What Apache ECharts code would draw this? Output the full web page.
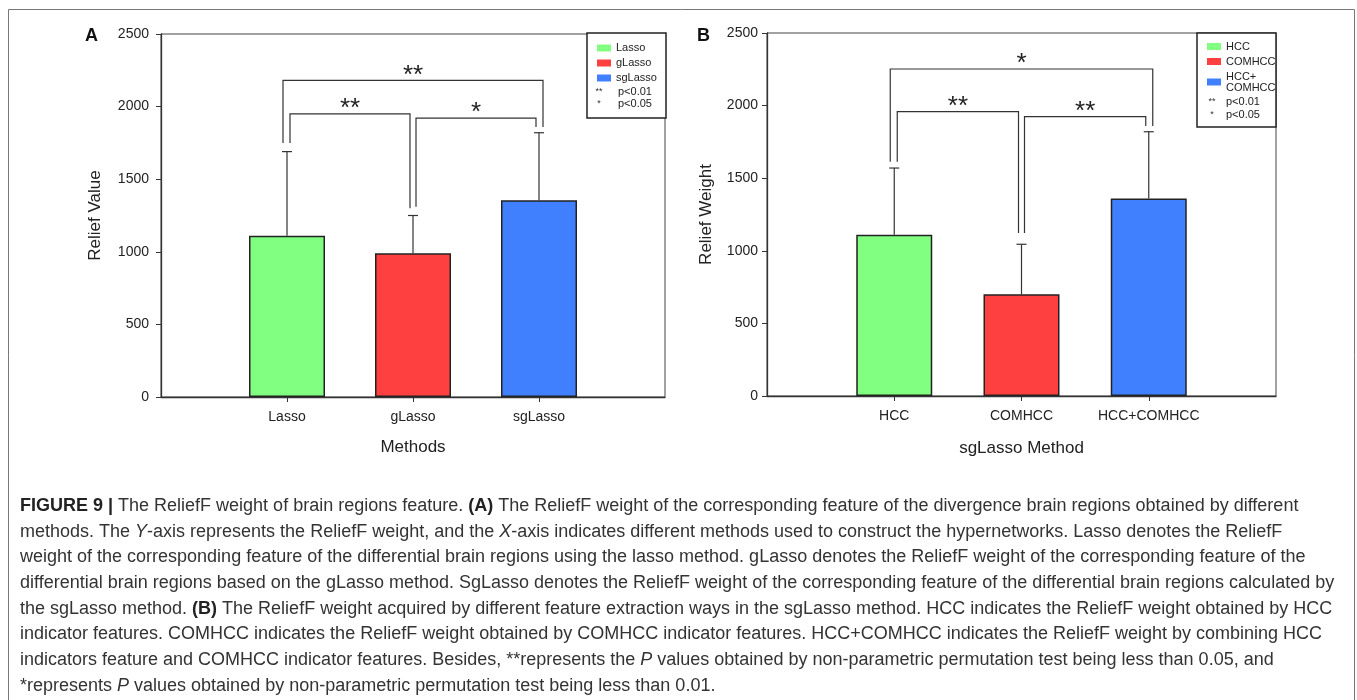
<!DOCTYPE html>
<html>
<head>
<meta charset="utf-8">
<title>Figure 9 - ReliefF weight</title>
<script src="https://cdn.jsdelivr.net/npm/echarts@6/dist/echarts.min.js"></script>
<style>
    html, body { margin: 0; padding: 0; background: #fff; }
    #chart { width: 1357px; height: 700px; }
</style>
</head>
<body>
<div id="chart"></div>
<script>
// panel A : methods
const methodNames = ['Lasso', 'gLasso', 'sgLasso'];
const methodMeans = [1110, 990, 1355];
const methodErrTops = [1690, 1250, 1820];
// [from, to, bracket level, left leg bottom, right leg bottom, stars]
const methodPairs = [
    [0, 1, 1950, 1750, 1300, '**'],
    [1, 2, 1920, 1310, 1860, '*'],
    [0, 2, 2180, 1750, 1860, '**']
];

// panel B : sgLasso feature types
const featureNames = ['HCC', 'COMHCC', 'HCC+COMHCC'];
const featureMeans = [1110, 700, 1360];
const featureErrTops = [1570, 1045, 1820];
const featurePairs = [
    [0, 1, 1958, 1613, 1122, '**'],
    [1, 2, 1924, 1122, 1860, '**'],
    [0, 2, 2252, 1613, 1860, '*']
];

const yMax = 2500;
const yStep = 500;
const barColors = ['#80ff80', '#ff4040', '#4080ff'];
const pNotes = [['**', 'p<0.01'], ['*', 'p<0.05']];

const captionLines = [
    '{b|FIGURE 9 |} The ReliefF weight of brain regions feature. {b|(A)} The ReliefF weight of the corresponding feature of the divergence brain regions obtained by different',
    'methods. The {i|Y}-axis represents the ReliefF weight, and the {i|X}-axis indicates different methods used to construct the hypernetworks. Lasso denotes the ReliefF',
    'weight of the corresponding feature of the differential brain regions using the lasso method. gLasso denotes the ReliefF weight of the corresponding feature of the',
    'differential brain regions based on the gLasso method. SgLasso denotes the ReliefF weight of the corresponding feature of the differential brain regions calculated by',
    'the sgLasso method. {b|(B)} The ReliefF weight acquired by different feature extraction ways in the sgLasso method. HCC indicates the ReliefF weight obtained by HCC',
    'indicator features. COMHCC indicates the ReliefF weight obtained by COMHCC indicator features. HCC+COMHCC indicates the ReliefF weight by combining HCC',
    'indicators feature and COMHCC indicator features. Besides, **represents the {i|P} values obtained by non-parametric permutation test being less than 0.05, and',
    '*represents {i|P} values obtained by non-parametric permutation test being less than 0.01.'
];

const FONT = '"Liberation Sans", Arial, sans-serif';
const LINE = '#333';
const CAP = 18;

let chart = echarts.init(document.getElementById('chart'));

function barSeries(names, means, idx) {
    return names.map(function (n, i) {
        return {
            type: 'bar',
            name: n,
            xAxisIndex: idx,
            yAxisIndex: idx,
            data: [[i + 1, means[i]]],
            barWidth: 76,
            barGap: '-100%',
            itemStyle: { color: barColors[i], borderColor: '#222', borderWidth: 1.5 },
            z: 3
        };
    });
}

function errorSeries(means, tops, idx) {
    return {
        type: 'custom',
        xAxisIndex: idx,
        yAxisIndex: idx,
        data: means.map(function (m, i) { return [i + 1, m, tops[i]]; }),
        renderItem: function (params, api) {
            let base = api.coord([api.value(0), api.value(1)]);
            let top = api.coord([api.value(0), api.value(2)]);
            let st = { stroke: LINE, lineWidth: 1.2 };
            return {
                type: 'group',
                children: [
                    { type: 'line', shape: { x1: base[0], y1: base[1], x2: top[0], y2: top[1] }, style: st },
                    { type: 'line', shape: { x1: top[0] - 5, y1: top[1], x2: top[0] + 5, y2: top[1] }, style: st }
                ]
            };
        },
        z: 4
    };
}

function bracketSeries(pairs, idx) {
    return {
        type: 'custom',
        xAxisIndex: idx,
        yAxisIndex: idx,
        data: pairs.map(function (p) { return [p[0] + 1, p[1] + 1, p[2], p[3], p[4]]; }),
        renderItem: function (params, api) {
            let x1 = api.value(0), x2 = api.value(1);
            // outer bracket legs sit outside the inner ones
            let outer = x2 - x1 > 1;
            let dl = outer ? -4 : 3, dr = outer ? 4 : -3;
            let pL = api.coord([x1, api.value(3)]);
            let pTL = api.coord([x1, api.value(2)]);
            let pTR = api.coord([x2, api.value(2)]);
            let pR = api.coord([x2, api.value(4)]);
            return {
                type: 'group',
                children: [{
                    type: 'polyline',
                    shape: { points: [[pL[0] + dl, pL[1]], [pTL[0] + dl, pTL[1]], [pTR[0] + dr, pTR[1]], [pR[0] + dr, pR[1]]] },
                    style: { stroke: LINE, lineWidth: 1.2, fill: null }
                }, {
                    type: 'text',
                    x: (pTL[0] + pTR[0]) / 2,
                    y: pTL[1] + 8,
                    style: {
                        text: pairs[params.dataIndex][5],
                        align: 'center',
                        verticalAlign: 'bottom',
                        fontSize: 26,
                        fontFamily: FONT,
                        fill: '#222'
                    }
                }]
            };
        },
        z: 4
    };
}

function xAxisOf(names, idx, title, gap) {
    let pos = names.map(function (n, i) { return i + 1; });
    return {
        type: 'value',
        gridIndex: idx,
        min: 0,
        max: names.length + 1,
        interval: 1,
        name: title,
        nameLocation: 'middle',
        nameGap: gap,
        nameTextStyle: { fontSize: 17, color: '#222', fontFamily: FONT },
        axisLine: { onZero: false, lineStyle: { color: LINE, width: 1.3 } },
        axisTick: { customValues: pos, length: 5, lineStyle: { color: LINE } },
        axisLabel: {
            customValues: pos,
            formatter: function (v) { return names[v - 1]; },
            fontSize: 14, color: '#222', fontFamily: FONT, margin: 13
        },
        splitLine: { show: false }
    };
}

function yAxisOf(idx, title, gap, margin) {
    return {
        type: 'value',
        gridIndex: idx,
        min: 0,
        max: yMax,
        interval: yStep,
        name: title,
        nameLocation: 'middle',
        nameGap: gap,
        nameTextStyle: { fontSize: 17, color: '#222', fontFamily: FONT },
        axisLine: { show: true, onZero: false, lineStyle: { color: LINE, width: 1.3 } },
        axisTick: { show: true, length: 5, lineStyle: { color: LINE } },
        axisLabel: {
            fontSize: 14, color: '#222', fontFamily: FONT, margin: margin,
            formatter: function (v) { return String(v); }
        },
        splitLine: { show: false }
    };
}

function legendOf(names, left, lineH, gap) {
    return {
        data: names,
        orient: 'vertical',
        left: left,
        top: 36,
        padding: 5,
        icon: 'rect',
        itemWidth: 14,
        itemHeight: 7,
        itemGap: gap,
        selectedMode: false,
        itemStyle: { borderWidth: 0 },
        textStyle: { fontSize: 11, lineHeight: lineH, color: '#222', fontFamily: FONT },
        formatter: function (n) { return n === 'HCC+COMHCC' ? 'HCC+\nCOMHCC' : n; },
        z: 6
    };
}

function legendBox(x, y, w, h, starX, textX, noteY, noteGap) {
    let kids = [{
        type: 'rect',
        shape: { x: x, y: y, width: w, height: h },
        style: { fill: '#fff', stroke: '#222', lineWidth: 1.5 },
        z: 5
    }];
    pNotes.forEach(function (p, i) {
        kids.push({
            type: 'text', x: starX, y: noteY + i * noteGap, z: 6,
            style: { text: p[0], fontSize: 9, fontFamily: FONT, fill: '#333', align: 'center', verticalAlign: 'middle' }
        });
        kids.push({
            type: 'text', x: textX, y: noteY + i * noteGap, z: 6,
            style: { text: p[1], fontSize: 11, fontFamily: FONT, fill: '#222', verticalAlign: 'middle' }
        });
    });
    return kids;
}

let richCaption = {
    b: { fontWeight: 'bold', fontSize: CAP, fontFamily: FONT, fill: '#222', lineHeight: 25.7 },
    i: { fontStyle: 'italic', fontSize: CAP, fontFamily: FONT, fill: '#333', lineHeight: 25.7 }
};

let option = {
    animation: false,
    backgroundColor: '#fff',
    grid: [
        { left: 161, top: 34, width: 504, height: 363, show: true, borderColor: '#444', borderWidth: 1 },
        { left: 767, top: 33, width: 509, height: 363, show: true, borderColor: '#444', borderWidth: 1 }
    ],
    xAxis: [
        xAxisOf(methodNames, 0, 'Methods', 42),
        xAxisOf(featureNames, 1, 'sgLasso Method', 44)
    ],
    yAxis: [
        yAxisOf(0, 'Relief Value', 57, 12),
        yAxisOf(1, 'Relief Weight', 52, 9)
    ],
    legend: [legendOf(methodNames, 592, 14, 1), legendOf(featureNames, 1202, 11, 4)],
    series: [].concat(
        barSeries(methodNames, methodMeans, 0),
        [errorSeries(methodMeans, methodErrTops, 0), bracketSeries(methodPairs, 0)],
        barSeries(featureNames, featureMeans, 1),
        [errorSeries(featureMeans, featureErrTops, 1), bracketSeries(featurePairs, 1)]
    ),
    graphic: [].concat(
        [{
            type: 'rect',
            shape: { x: 8.5, y: 9.5, width: 1346, height: 720 },
            style: { fill: null, stroke: '#777', lineWidth: 1 },
            silent: true
        }, {
            type: 'text', x: 85, y: 36,
            style: { text: 'A', fontSize: 18, fontWeight: 'bold', fontFamily: FONT, fill: '#111', verticalAlign: 'middle' }
        }, {
            type: 'text', x: 697, y: 36,
            style: { text: 'B', fontSize: 18, fontWeight: 'bold', fontFamily: FONT, fill: '#111', verticalAlign: 'middle' }
        }],
        legendBox(587, 33, 79, 85, 599, 618, 92, 11.5),
        legendBox(1197, 33, 79, 94, 1212, 1226, 102, 13),
        [{
            type: 'text', x: 20, y: 493,
            style: {
                text: captionLines.join('\n'),
                rich: richCaption,
                fontSize: CAP,
                fontFamily: FONT,
                lineHeight: 25.7,
                fill: '#333',
                verticalAlign: 'top'
            }
        }]
    )
};

chart.setOption(option);
</script>
</body>
</html>
